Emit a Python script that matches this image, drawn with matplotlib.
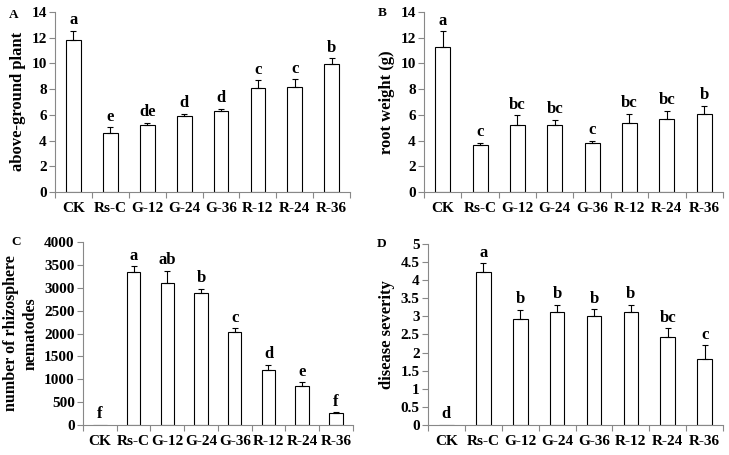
import matplotlib
matplotlib.use("Agg")
import matplotlib.pyplot as plt
import numpy as np

categories = ["CK", "Rs-C", "G-12", "G-24", "G-36", "R-12", "R-24", "R-36"]

a_vals = [11.85, 4.62, 5.22, 5.88, 6.28, 8.1, 8.15, 9.98]
a_errs = [0.68, 0.4, 0.18, 0.2, 0.2, 0.58, 0.6, 0.4]
a_lets = ["a", "e", "de", "d", "d", "c", "c", "b"]

b_vals = [11.28, 3.68, 5.24, 5.2, 3.78, 5.34, 5.65, 6.1]
b_errs = [1.2, 0.13, 0.72, 0.4, 0.22, 0.76, 0.63, 0.62]
b_lets = ["a", "c", "bc", "bc", "c", "bc", "bc", "b"]

c_vals = [0, 3345, 3105, 2885, 2035, 1205, 855, 255]
c_errs = [0, 122, 268, 88, 80, 110, 80, 22]
c_lets = ["f", "a", "ab", "b", "c", "d", "e", "f"]

d_vals = [0, 4.22, 2.92, 3.12, 3.02, 3.12, 2.42, 1.82]
d_errs = [0, 0.24, 0.26, 0.2, 0.17, 0.19, 0.25, 0.38]
d_lets = ["d", "a", "b", "b", "b", "b", "bc", "c"]

plt.rcParams["font.family"] = ["Liberation Serif", "DejaVu Serif"]
plt.rcParams["font.weight"] = "bold"

fig = plt.figure(figsize=(7.29, 4.55), dpi=100)

panels = [
    dict(pos=[0.0754, 0.578, 0.405, 0.396], vals=a_vals, errs=a_errs, lets=a_lets,
         ylim=(0, 14), yticks=np.arange(0, 15, 2), ylabel="above-ground plant",
         ylfs=12, tag="A", tagx=0.019, tagy=0.967),
    dict(pos=[0.5816, 0.578, 0.410, 0.396], vals=b_vals, errs=b_errs, lets=b_lets,
         ylim=(0, 14), yticks=np.arange(0, 15, 2), ylabel="root weight (g)",
         ylfs=12, tag="B", tagx=0.524, tagy=0.972),
    dict(pos=[0.1139, 0.0659, 0.370, 0.402], vals=c_vals, errs=c_errs, lets=c_lets,
         ylim=(0, 4000), yticks=np.arange(0, 4001, 500),
         ylabel="number of rhizosphere\nnematodes",
         ylfs=11.5, tag="C", tagx=0.022, tagy=0.468),
    dict(pos=[0.587, 0.0659, 0.405, 0.398], vals=d_vals, errs=d_errs, lets=d_lets,
         ylim=(0, 5), yticks=np.arange(0, 5.01, 0.5), ylabel="disease severity",
         ylfs=12, tag="D", tagx=0.524, tagy=0.463),
]

x = np.arange(len(categories))
for p in panels:
    ax = fig.add_axes(p["pos"])
    vals = np.array(p["vals"], dtype=float)
    errs = np.array(p["errs"], dtype=float)
    ax.bar(x, vals, width=0.4, color="white", edgecolor="black", linewidth=0.8, zorder=2)
    m = errs > 0
    ax.errorbar(x[m], vals[m], yerr=[np.zeros(m.sum()), errs[m]], fmt="none",
                ecolor="black", elinewidth=0.8, capsize=2.5, capthick=0.8, zorder=3)
    rng = p["ylim"][1] - p["ylim"][0]
    for xi, v, e, l in zip(x, vals, errs, p["lets"]):
        ax.text(xi, v + e + rng * 0.015, l, ha="center", va="bottom",
                fontsize=12, fontweight="bold")
    ax.set_xlim(-0.5, len(x) - 0.5)
    ax.set_ylim(*p["ylim"])
    ax.set_yticks(p["yticks"])
    ax.set_yticklabels(["{:g}".format(round(t, 2)) for t in p["yticks"]],
                       fontsize=11, fontweight="bold")
    ax.set_xticks(x)
    ax.set_xticklabels(categories, fontsize=11, fontweight="bold")
    ax.set_xticks(np.arange(-0.5, len(x) + 0.5, 1), minor=True)
    ax.tick_params(axis="x", which="major", length=0, pad=7)
    ax.tick_params(axis="x", which="minor", length=4, color="#888888", width=0.8)
    ax.tick_params(axis="y", length=4, color="#888888", width=0.8, pad=2)
    for s in ["top", "right"]:
        ax.spines[s].set_visible(False)
    for s in ["left", "bottom"]:
        ax.spines[s].set_color("#888888")
        ax.spines[s].set_linewidth(0.8)
    ax.set_ylabel(p["ylabel"], fontsize=p["ylfs"], fontweight="bold", labelpad=4,
                  linespacing=1.3)
    fig.text(p["tagx"], p["tagy"], p["tag"], fontsize=9.5, fontweight="bold",
             ha="center", va="center")

fig.savefig("out.png", dpi=100)
